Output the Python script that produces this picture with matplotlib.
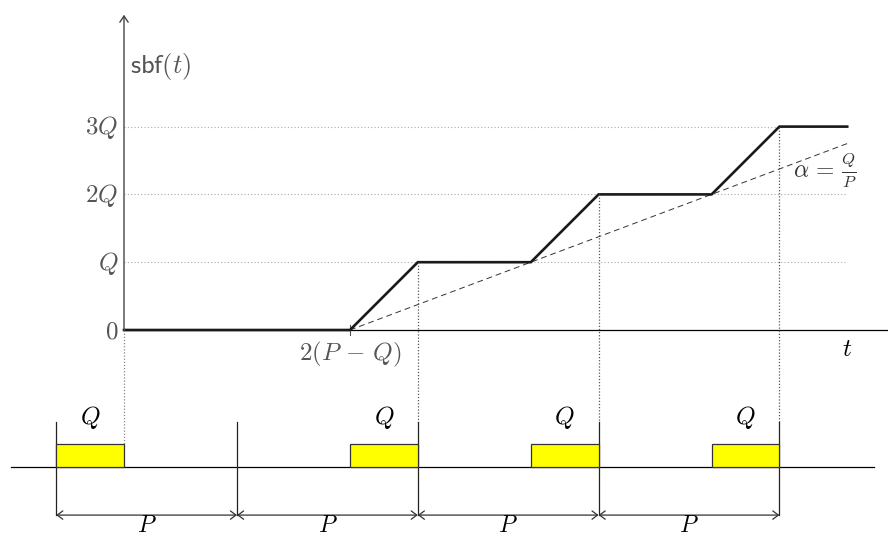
import matplotlib
matplotlib.use("Agg")
import matplotlib.pyplot as plt
from matplotlib.patches import Rectangle

plt.rcParams['mathtext.fontset'] = 'cm'
plt.rcParams['font.family'] = ['DejaVu Sans']

# model parameters (time and supply share one unit)
Q = 3
P = 8

# supply bound function sbf(t)
sbf_t = [0, 10, 13, 18, 21, 26, 29, 32]
sbf_v = [0, 0, 3, 3, 6, 6, 9, 9]

# linear bound alpha = Q/P starting at 2(P-Q)
lin_t0 = 2 * (P - Q)
lin_t1 = 32

# y ticks
ytick_vals = [0, 3, 6, 9]
ytick_labels = ['$0$', '$Q$', '$2Q$', '$3Q$']

# periodic resource timeline
period_bounds = [-3, 5, 13, 21, 29]
supply_starts = [-3, 10, 18, 26]
supply_ends = [0, 13, 21, 29]
# points where the sbf corner is projected down to the timeline
drop_t = [13, 21, 29]
drop_v = [3, 6, 9]

# layout of the timeline (same units)
y_line = -6.06
box_h = 1.02
y_vtop = -4.07
y_arrow = -8.19

gray = '#555555'
fig = plt.figure(figsize=(8.88, 5.39), dpi=100)
ax = fig.add_axes([0, 0, 1, 1])
ax.set_xlim(-5.487, 33.805)
ax.set_ylim(-9.248, 14.602)
ax.axis('off')

# grid lines
for v in ytick_vals[1:]:
    ax.plot([0, 32], [v, v], color='#aaaaaa', lw=0.8, ls=(0, (1, 2)))

# axes
ax.plot([0, 33.8], [0, 0], color='black', lw=0.9)
ax.annotate('', xy=(0, 13.95), xytext=(0, 0),
            arrowprops=dict(arrowstyle='->,head_length=0.45,head_width=0.3',
                            color='#444444', lw=1.0, shrinkA=0, shrinkB=0))
for v, lab in zip(ytick_vals, ytick_labels):
    ax.text(-0.25, v - 0.05, lab, ha='right', va='center', fontsize=18, color=gray)
ax.text(0.25, 11.65, r'$\mathsf{sbf}(t)$', ha='left', va='center', fontsize=19, color=gray)
ax.text(32, -0.85, '$t$', ha='center', va='center', fontsize=18, color='black')

# tick at 2(P-Q)
ax.plot([lin_t0, lin_t0], [-0.22, 0.22], color=gray, lw=0.8)
ax.text(lin_t0, -1.08, r'$2(P\,-\,Q)$', ha='center', va='center', fontsize=18, color=gray)

# dashed linear bound
ax.plot([lin_t0, lin_t1], [0, Q / P * (lin_t1 - lin_t0)], color='#333333',
        lw=0.7, ls=(0, (6, 4)))
ax.text(32.45, 7.05, r'$\alpha\,=\,\frac{Q}{P}$', ha='right', va='center', fontsize=17,
        color='#333333')

# sbf
ax.plot(sbf_t, sbf_v, color='#1a1a1a', lw=1.9, solid_joinstyle='miter')

# dotted projections
ax.plot([0, 0], [0, y_line + box_h], color='#888888', lw=0.9, ls=(0, (1, 1.5)))
for t, v in zip(drop_t, drop_v):
    ax.plot([t, t], [v, y_vtop], color='#555555', lw=0.9, ls=(0, (1, 1.5)))

# timeline
ax.plot([-5.0, 33.2], [y_line, y_line], color='black', lw=0.9)
for t in period_bounds:
    ax.plot([t, t], [y_vtop, y_arrow], color='#222222', lw=0.9)
for s, e in zip(supply_starts, supply_ends):
    ax.add_patch(Rectangle((s, y_line), e - s, box_h, facecolor='#ffff00',
                           edgecolor='#333333', lw=0.9, zorder=3))
    ax.text((s + e) / 2, -3.85, '$Q$', ha='center', va='center', fontsize=18)
for a, b in zip(period_bounds[:-1], period_bounds[1:]):
    ax.annotate('', xy=(b, y_arrow), xytext=(a, y_arrow),
                arrowprops=dict(arrowstyle='<->,head_length=0.4,head_width=0.3',
                                color='#333333', lw=0.9, shrinkA=0, shrinkB=0))
    ax.text((a + b) / 2, -8.62, '$P$', ha='center', va='center', fontsize=17)

fig.savefig('out.png', dpi=100)
